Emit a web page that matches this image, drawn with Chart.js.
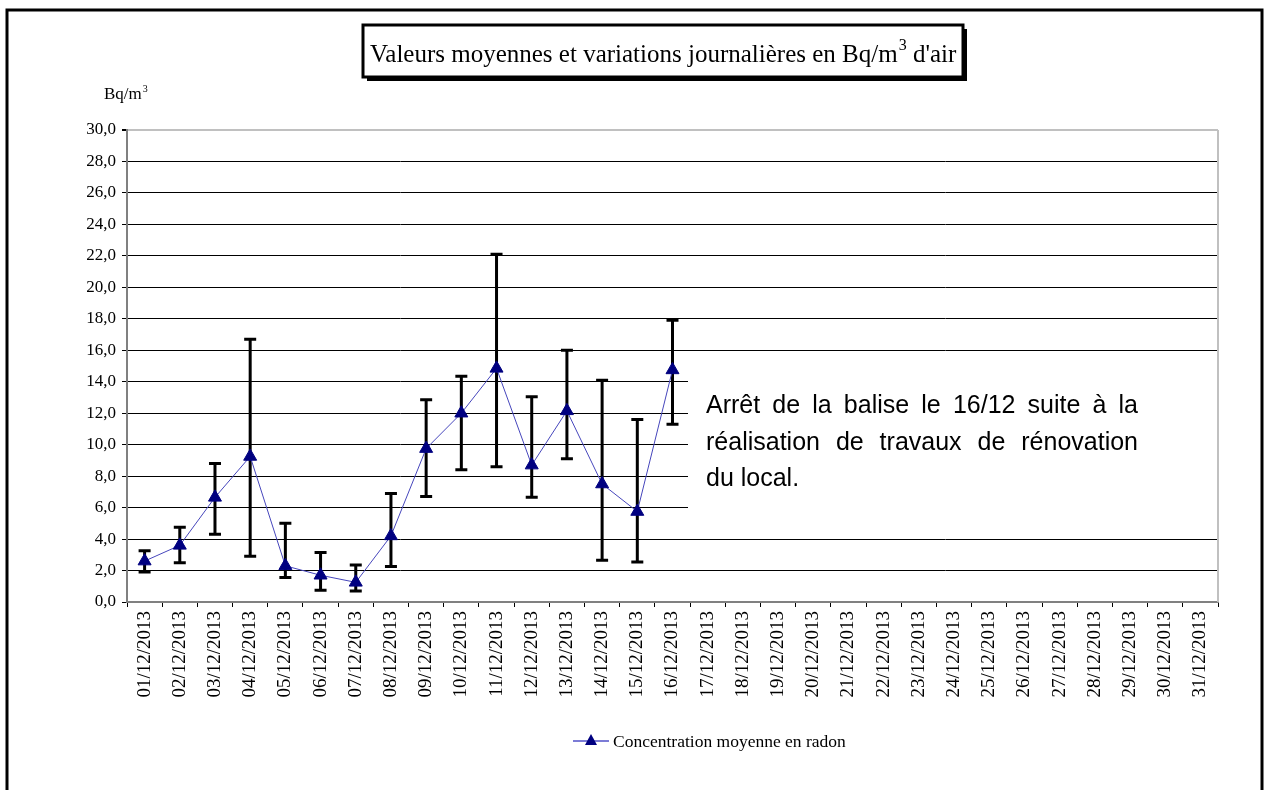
<!DOCTYPE html>
<html>
<head>
<meta charset="utf-8">
<script src="https://cdn.jsdelivr.net/npm/chart.js@4"></script>
<style>
html,body{margin:0;padding:0;background:#fff;}
#wrap{width:1265px;height:790px;}
</style>
</head>
<body>
<div id="wrap"><canvas id="c" width="1265" height="790"></canvas></div>
<script>
const categories = ['01/12/2013','02/12/2013','03/12/2013','04/12/2013','05/12/2013','06/12/2013','07/12/2013','08/12/2013','09/12/2013','10/12/2013','11/12/2013','12/12/2013','13/12/2013','14/12/2013','15/12/2013','16/12/2013','17/12/2013','18/12/2013','19/12/2013','20/12/2013','21/12/2013','22/12/2013','23/12/2013','24/12/2013','25/12/2013','26/12/2013','27/12/2013','28/12/2013','29/12/2013','30/12/2013','31/12/2013'];
const meanValues = [2.6,3.6,6.65,9.25,2.3,1.7,1.25,4.2,9.75,12.0,14.85,8.7,12.15,7.5,5.75,14.75,null,null,null,null,null,null,null,null,null,null,null,null,null,null,null];
const errHigh = [3.25,4.75,8.8,16.7,5.0,3.15,2.35,6.9,12.85,14.35,22.1,13.05,16.0,14.1,11.6,17.9];
const errLow = [1.9,2.5,4.3,2.9,1.55,0.75,0.7,2.25,6.7,8.4,8.6,6.65,9.1,2.65,2.55,11.3];
const yTicks = [0,2,4,6,8,10,12,14,16,18,20,22,24,26,28,30];
const seriesName = 'Concentration moyenne en radon';
const titleText = "Valeurs moyennes et variations journalières en Bq/m";
const titleSup = '3';
const titleEnd = " d'air";
const unitText = 'Bq/m';
const noteLines = ['Arrêt de la balise le 16/12 suite à la','réalisation de travaux de rénovation','du local.'];

const SERIF = '"Liberation Serif","Times New Roman",serif';
const SANS = '"Liberation Sans",Arial,sans-serif';

function justify(ctx, text, x, y, width, doJustify){
  const words = text.split(' ');
  if(!doJustify){ ctx.fillText(text, x, y); return; }
  let total = 0; words.forEach(w=>{ total += ctx.measureText(w).width; });
  const gap = (width - total)/(words.length-1);
  let cx = x;
  words.forEach(w=>{ ctx.fillText(w, cx, y); cx += ctx.measureText(w).width + gap; });
}

const decor = {
  id:'decor',
  beforeDatasetsDraw(chart){
    const ctx = chart.ctx, a = chart.chartArea;
    const xs = chart.scales.x, ys = chart.scales.y;
    ctx.save();
    ctx.strokeStyle = '#c0c0c0'; ctx.lineWidth = 2;
    ctx.beginPath(); ctx.moveTo(a.right, a.top); ctx.lineTo(a.right, a.bottom); ctx.stroke();
    ctx.fillStyle = '#fff';
    ctx.fillRect(688, ys.getPixelForValue(15.0), a.right - 1 - 688, ys.getPixelForValue(5.0) - ys.getPixelForValue(15.0));
    ctx.strokeStyle = '#000'; ctx.lineWidth = 3; ctx.lineCap = 'butt';
    for(let i=0;i<errHigh.length;i++){
      const px = xs.getPixelForValue(i);
      const yt = ys.getPixelForValue(errHigh[i]);
      const yb = ys.getPixelForValue(errLow[i]);
      ctx.beginPath();
      ctx.moveTo(px, yt); ctx.lineTo(px, yb);
      ctx.moveTo(px-6, yt); ctx.lineTo(px+6, yt);
      ctx.moveTo(px-6, yb); ctx.lineTo(px+6, yb);
      ctx.stroke();
    }
    ctx.restore();
  },
  afterDraw(chart){
    const ctx = chart.ctx;
    ctx.save();
    ctx.strokeStyle = '#000'; ctx.lineWidth = 3;
    ctx.strokeRect(7, 10, 1255, 800);
    ctx.fillStyle = '#000';
    ctx.fillRect(367, 29, 600, 52);
    ctx.fillStyle = '#fff';
    ctx.fillRect(363, 25, 600, 52);
    ctx.lineWidth = 3; ctx.strokeStyle = '#000';
    ctx.strokeRect(363, 25, 600, 52);
    ctx.fillStyle = '#000';
    ctx.textBaseline = 'alphabetic'; ctx.textAlign = 'left';
    ctx.font = '25px ' + SERIF;
    let tx = 370;
    ctx.fillText(titleText, tx, 62);
    tx += ctx.measureText(titleText).width;
    ctx.font = '16px ' + SERIF;
    ctx.fillText(titleSup, tx+1, 50);
    tx += ctx.measureText(titleSup).width + 1;
    ctx.font = '25px ' + SERIF;
    ctx.fillText(titleEnd, tx, 62);
    ctx.font = '17px ' + SERIF;
    ctx.fillText(unitText, 104, 99);
    const uw = ctx.measureText(unitText).width;
    ctx.font = '10px ' + SERIF;
    ctx.fillText('3', 104+uw+1, 92);
    ctx.font = '25px ' + SANS;
    ctx.fillStyle = '#000';
    justify(ctx, noteLines[0], 706, 413, 432, true);
    justify(ctx, noteLines[1], 706, 449.5, 432, true);
    justify(ctx, noteLines[2], 706, 486, 432, false);
    const ly = 741;
    ctx.strokeStyle = '#5050c8'; ctx.lineWidth = 1.5;
    ctx.beginPath(); ctx.moveTo(573, ly); ctx.lineTo(609, ly); ctx.stroke();
    ctx.fillStyle = '#000080';
    ctx.beginPath(); ctx.moveTo(591, ly-7); ctx.lineTo(597, ly+4); ctx.lineTo(585, ly+4); ctx.closePath(); ctx.fill();
    ctx.fillStyle = '#000';
    ctx.font = '17.5px ' + SERIF;
    ctx.fillText(seriesName, 613, 747);
    ctx.restore();
  }
};

new Chart(document.getElementById('c'), {
  type:'line',
  data:{
    labels: categories,
    datasets:[{
      label: seriesName,
      data: meanValues,
      borderColor:'#4646bc',
      borderWidth:1,
      backgroundColor:'#000080',
      pointStyle:'triangle',
      pointRadius:7.5,
      pointBackgroundColor:'#000080',
      pointBorderColor:'#000080',
      pointBorderWidth:1,
      tension:0,
      spanGaps:false
    }]
  },
  options:{
    responsive:false,
    animation:false,
    devicePixelRatio:1,
    layout:{padding:{left:0,top:130,right:47,bottom:0}},
    plugins:{legend:{display:false},title:{display:false},tooltip:{enabled:false}},
    scales:{
      x:{
        type:'category',
        offset:true,
        grid:{offset:true, drawOnChartArea:false, drawTicks:true, tickLength:5, color:'#000', lineWidth:1},
        border:{display:true, color:'#808080', width:2},
        ticks:{autoSkip:false, minRotation:90, maxRotation:90, padding:4, color:'#000', font:{family:SERIF, size:19}},
        afterFit(scale){ scale.height = 188; }
      },
      y:{
        min:0, max:30,
        afterBuildTicks(scale){ scale.ticks = yTicks.map(v=>({value:v})); },
        grid:{
          drawTicks:true, tickLength:5,
          color:(c)=> c.tick && c.tick.value===30 ? '#c0c0c0' : '#000',
          lineWidth:(c)=> c.tick && c.tick.value===30 ? 2 : 1,
          tickColor:'#000'
        },
        border:{display:true, color:'#808080', width:2},
        ticks:{padding:6, color:'#000', font:{family:SERIF, size:17}, callback:(v)=> Number(v).toFixed(1).replace('.', ',')},
        afterFit(scale){ scale.width = 127; }
      }
    }
  },
  plugins:[decor]
});
</script>
</body>
</html>
